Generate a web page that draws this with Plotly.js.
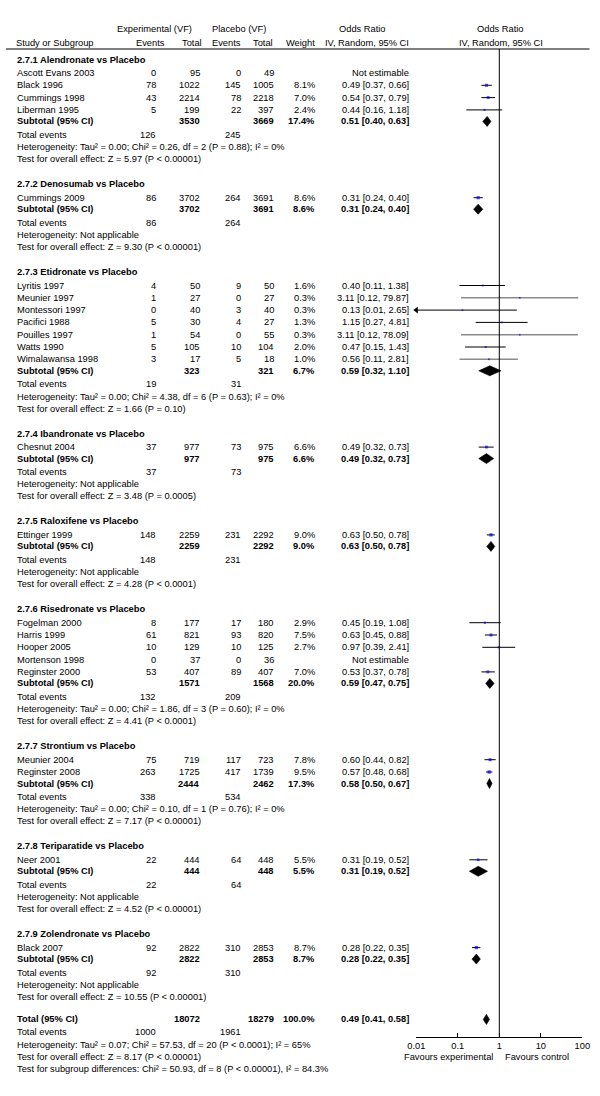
<!DOCTYPE html>
<html><head><meta charset="utf-8">
<script src="https://cdn.plot.ly/plotly-3.0.1.min.js"></script>
<style>html,body{margin:0;padding:0;background:#fff;}#chart{width:600px;height:1096px;}</style>
</head><body><div id="chart"></div>
<script>
// ================= DATA =================
const groupTitles = [
  "2.7.1 Alendronate vs Placebo","2.7.2 Denosumab vs Placebo","2.7.3 Etidronate vs Placebo",
  "2.7.4 Ibandronate vs Placebo","2.7.5 Raloxifene vs Placebo","2.7.6 Risedronate vs Placebo",
  "2.7.7 Strontium vs Placebo","2.7.8 Teriparatide vs Placebo","2.7.9 Zolendronate vs Placebo"];

const studyNames = ["Ascott Evans 2003","Black 1996","Cummings 1998","Liberman 1995",
  "Cummings 2009",
  "Lyritis 1997","Meunier 1997","Montessori 1997","Pacifici 1988","Pouilles 1997","Watts 1990","Wimalawansa 1998",
  "Chesnut 2004","Ettinger 1999",
  "Fogelman 2000","Harris 1999","Hooper 2005","Mortenson 1998","Reginster 2000",
  "Meunier 2004","Reginster 2008","Neer 2001","Black 2007"];
const studyGroup = [0,0,0,0, 1, 2,2,2,2,2,2,2, 3, 4, 5,5,5,5,5, 6,6, 7, 8];
const expEvents = [0,78,43,5, 86, 4,1,0,5,1,5,3, 37, 148, 8,61,10,0,53, 75,263, 22, 92];
const expTotal  = [95,1022,2214,199, 3702, 50,27,40,30,54,105,17, 977, 2259, 177,821,129,37,407, 719,1725, 444, 2822];
const plcEvents = [0,145,78,22, 264, 9,0,3,4,0,10,5, 73, 231, 17,93,10,0,89, 117,417, 64, 310];
const plcTotal  = [49,1005,2218,397, 3691, 50,27,40,27,55,104,18, 975, 2292, 180,820,125,36,407, 723,1739, 448, 2853];
const studyWeight = [null,8.1,7.0,2.4, 8.6, 1.6,0.3,0.3,1.3,0.3,2.0,1.0, 6.6, 9.0, 2.9,7.5,2.7,null,7.0, 7.8,9.5, 5.5, 8.7];
const studyOR = [null,0.49,0.54,0.44, 0.31, 0.40,3.11,0.13,1.15,3.11,0.47,0.56, 0.49, 0.63, 0.45,0.63,0.97,null,0.53, 0.60,0.57, 0.31, 0.28];
const studyLo = [null,0.37,0.37,0.16, 0.24, 0.11,0.12,0.01,0.27,0.12,0.15,0.11, 0.32, 0.50, 0.19,0.45,0.39,null,0.37, 0.44,0.48, 0.19, 0.22];
const studyHi = [null,0.66,0.79,1.18, 0.40, 1.38,79.87,2.65,4.81,78.09,1.43,2.81, 0.73, 0.78, 1.08,0.88,2.41,null,0.78, 0.82,0.68, 0.52, 0.35];

const subExpTotal = [3530,3702,323,977,2259,1571,2444,444,2822];
const subPlcTotal = [3669,3691,321,975,2292,1568,2462,448,2853];
const subWeight   = [17.4,8.6,6.7,6.6,9.0,20.0,17.3,5.5,8.7];
const subOR = [0.51,0.31,0.59,0.49,0.63,0.59,0.58,0.31,0.28];
const subLo = [0.40,0.24,0.32,0.32,0.50,0.47,0.50,0.19,0.22];
const subHi = [0.63,0.40,1.10,0.73,0.78,0.75,0.67,0.52,0.35];
const subExpEvents = [126,86,19,37,148,132,338,22,92];
const subPlcEvents = [245,264,31,73,231,209,534,64,310];
const subHet = [
  "Heterogeneity: Tau² = 0.00; Chi² = 0.26, df = 2 (P = 0.88); I² = 0%",
  "Heterogeneity: Not applicable",
  "Heterogeneity: Tau² = 0.00; Chi² = 4.38, df = 6 (P = 0.63); I² = 0%",
  "Heterogeneity: Not applicable",
  "Heterogeneity: Not applicable",
  "Heterogeneity: Tau² = 0.00; Chi² = 1.86, df = 3 (P = 0.60); I² = 0%",
  "Heterogeneity: Tau² = 0.00; Chi² = 0.10, df = 1 (P = 0.76); I² = 0%",
  "Heterogeneity: Not applicable",
  "Heterogeneity: Not applicable"];
const subTest = [
  "Test for overall effect: Z = 5.97 (P < 0.00001)",
  "Test for overall effect: Z = 9.30 (P < 0.00001)",
  "Test for overall effect: Z = 1.66 (P = 0.10)",
  "Test for overall effect: Z = 3.48 (P = 0.0005)",
  "Test for overall effect: Z = 4.28 (P < 0.0001)",
  "Test for overall effect: Z = 4.41 (P < 0.0001)",
  "Test for overall effect: Z = 7.17 (P < 0.00001)",
  "Test for overall effect: Z = 4.52 (P < 0.00001)",
  "Test for overall effect: Z = 10.55 (P < 0.00001)"];

const totalValues = [18072, 18279, 100.0, 0.49, 0.41, 0.58]; // expTotal, plcTotal, weight, OR, lo, hi
const totalEvents = [1000, 1961];
const totalTexts = [
  "Heterogeneity: Tau² = 0.07; Chi² = 57.53, df = 20 (P < 0.0001); I² = 65%",
  "Test for overall effect: Z = 8.17 (P < 0.00001)",
  "Test for subgroup differences: Chi² = 50.93, df = 8 (P < 0.00001), I² = 84.3%"];

const tickValues = [0.01, 0.1, 1, 10, 100];
const tickLabels = ["0.01", "0.1", "1", "10", "100"];
const headerRow1 = ["Experimental (VF)", "Placebo (VF)", "Odds Ratio", "Odds Ratio"];
const headerRow2 = ["Study or Subgroup", "Events", "Total", "Events", "Total", "Weight", "IV, Random, 95% CI", "IV, Random, 95% CI"];
const favourLabels = ["Favours experimental", "Favours control"];

// ================= LAYOUT / STYLE =================
const W = 600, H = 1096;
const FONT = "Liberation Sans, Arial, Helvetica, sans-serif";
const FS = 9.3;
const COL = {label:16.5, expEv:155.5, expTot:200, plcEv:240.5, plcTot:273.5, weight:314.5, or:408.5,
             teExp:155.5, tePlc:240.5};
const greyLines = ["Meunier 1997","Pouilles 1997","Wimalawansa 1998"];
const SP = {hs:13.5, ss:12.3, ssub:11.5, subte:13.5, tehet:12.3, hettest:12.0, testh:25.0, testtot:22.5, tottE:12.8};
const AXIS_Y = 1037.3, HEAD_LINE_Y = 49;

const anns = [];
function T(xpx, y, text, anchor, bold, size) {
  anns.push({xref:'paper', yref:'y', x:xpx/W, y:y, text: bold ? '<b>'+text+'</b>' : text,
    xanchor:anchor, yanchor:'middle', showarrow:false, borderpad:0, borderwidth:0,
    font:{family:FONT, size:size||FS, color:'#000'}});
}
const orText = (o,l,h) => o.toFixed(2)+' ['+l.toFixed(2)+', '+h.toFixed(2)+']';

// headers
T(154, 29, headerRow1[0], 'center');
T(239, 29, headerRow1[1], 'center');
T(362.5, 29, headerRow1[2], 'center');
T(500, 29, headerRow1[3], 'center');
T(16, 43, headerRow2[0], 'left');
T(150.5, 43, headerRow2[1], 'center');
T(202, 43, headerRow2[2], 'right');
T(226, 43, headerRow2[3], 'center');
T(273, 43, headerRow2[4], 'right');
T(314.5, 43, headerRow2[5], 'right');
T(367, 43, headerRow2[6], 'center');
T(501, 43, headerRow2[7], 'center');

// rows
let y = 59.5;
const ciBlack = {x:[], y:[]}, ciGrey = {x:[], y:[]};
const sq = {x:[], y:[], s:[]};
const arrows = {x:[], y:[]};
const diamonds = [];
groupTitles.forEach((g, gi) => {
  if (gi > 0) y += SP.testh;
  T(COL.label, y, g, 'left', true);
  let first = true;
  studyNames.forEach((n, i) => {
    if (studyGroup[i] !== gi) return;
    y += first ? SP.hs : SP.ss; first = false;
    T(COL.label, y, n, 'left');
    T(COL.expEv, y, String(expEvents[i]), 'right');
    T(COL.expTot, y, String(expTotal[i]), 'right');
    T(COL.plcEv, y, String(plcEvents[i]), 'right');
    T(COL.plcTot, y, String(plcTotal[i]), 'right');
    if (studyOR[i] === null) {
      T(COL.or, y, 'Not estimable', 'right');
    } else {
      T(COL.weight, y, studyWeight[i].toFixed(1)+'%', 'right');
      T(COL.or, y, orText(studyOR[i], studyLo[i], studyHi[i]), 'right');
      const tgt = greyLines.includes(n) ? ciGrey : ciBlack;
      tgt.x.push(Math.max(studyLo[i], 0.01), Math.min(studyHi[i], 100), null);
      tgt.y.push(y, y, null);
      if (studyLo[i] <= 0.01) { arrows.x.push(0.01); arrows.y.push(y); }
      sq.x.push(studyOR[i]); sq.y.push(y); sq.s.push(1.6 + 0.18*studyWeight[i]);
    }
  });
  y += SP.ssub;
  T(COL.label, y, 'Subtotal (95% CI)', 'left', true);
  T(COL.expTot, y, String(subExpTotal[gi]), 'right', true);
  T(COL.plcTot, y, String(subPlcTotal[gi]), 'right', true);
  T(COL.weight, y, subWeight[gi].toFixed(1)+'%', 'right', true);
  T(COL.or, y, orText(subOR[gi], subLo[gi], subHi[gi]), 'right', true);
  diamonds.push({o:subOR[gi], l:subLo[gi], h:subHi[gi], y:y});
  y += SP.subte;
  T(COL.label, y, 'Total events', 'left');
  T(COL.teExp, y, String(subExpEvents[gi]), 'right');
  T(COL.tePlc, y, String(subPlcEvents[gi]), 'right');
  y += SP.tehet;
  T(COL.label, y, subHet[gi], 'left');
  y += SP.hettest;
  T(COL.label, y, subTest[gi], 'left');
});
// overall
y += SP.testtot;
T(COL.label, y, 'Total (95% CI)', 'left', true);
T(COL.expTot, y, String(totalValues[0]), 'right', true);
T(COL.plcTot, y, String(totalValues[1]), 'right', true);
T(COL.weight, y, totalValues[2].toFixed(1)+'%', 'right', true);
T(COL.or, y, orText(totalValues[3], totalValues[4], totalValues[5]), 'right', true);
diamonds.push({o:totalValues[3], l:totalValues[4], h:totalValues[5], y:y});
y += SP.tottE;
T(COL.label, y, 'Total events', 'left');
T(COL.teExp, y, String(totalEvents[0]), 'right');
T(COL.tePlc, y, String(totalEvents[1]), 'right');
y += SP.tehet; T(COL.label, y, totalTexts[0], 'left');
y += SP.hettest; T(COL.label, y, totalTexts[1], 'left');
y += SP.hettest; T(COL.label, y, totalTexts[2], 'left');

// favours labels
T(493, 1056.7, favourLabels[0], 'right');
T(504.5, 1056.7, favourLabels[1], 'left');

const traces = [];
traces.push({type:'scatter', mode:'lines', x:ciBlack.x, y:ciBlack.y, line:{color:'#000', width:1}, hoverinfo:'skip', showlegend:false});
traces.push({type:'scatter', mode:'lines', x:ciGrey.x, y:ciGrey.y, line:{color:'#8a8a8a', width:1.6}, hoverinfo:'skip', showlegend:false});
traces.push({type:'scatter', mode:'markers', x:arrows.x, y:arrows.y, cliponaxis:false,
  marker:{symbol:'triangle-left', size:6, color:'#000', line:{width:0}}, hoverinfo:'skip', showlegend:false});
traces.push({type:'scatter', mode:'markers', x:sq.x, y:sq.y, cliponaxis:false,
  marker:{symbol:'square', size:sq.s, color:'#0000ff', line:{width:0}}, hoverinfo:'skip', showlegend:false});
diamonds.forEach(d => {
  traces.push({type:'scatter', mode:'lines', x:[d.l, d.o, d.h, d.o, d.l], y:[d.y, d.y-5, d.y, d.y+5, d.y],
    fill:'toself', fillcolor:'#000', line:{color:'#000', width:0.6}, hoverinfo:'skip', showlegend:false});
});

const layout = {
  width:W, height:H, margin:{l:0,r:0,t:0,b:0}, paper_bgcolor:'#fff', plot_bgcolor:'rgba(0,0,0,0)',
  showlegend:false,
  xaxis:{type:'log', range:[-2,2], domain:[416.3/W, 582.3/W], anchor:'free', position:(H-AXIS_Y)/H,
    showline:true, linecolor:'#000', linewidth:1, ticks:'inside', ticklen:4, tickwidth:1, tickcolor:'#000',
    tickmode:'array', tickvals:tickValues, ticktext:tickLabels,
    tickfont:{family:FONT, size:FS, color:'#000'}, showgrid:false, zeroline:false, fixedrange:true},
  yaxis:{range:[H,0], domain:[0,1], visible:false, showgrid:false, zeroline:false, fixedrange:true},
  shapes:[
    {type:'line', xref:'paper', yref:'y', x0:6/W, x1:589.5/W, y0:HEAD_LINE_Y, y1:HEAD_LINE_Y, line:{color:'#000', width:1}},
    {type:'line', xref:'x', yref:'y', x0:1, x1:1, y0:HEAD_LINE_Y, y1:AXIS_Y, line:{color:'#000', width:1}}
  ],
  annotations:anns
};
Plotly.newPlot('chart', traces, layout, {staticPlot:true, displayModeBar:false});
</script>
</body></html>
